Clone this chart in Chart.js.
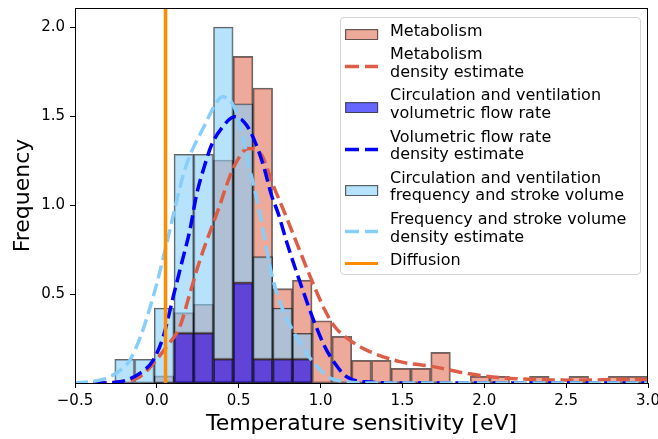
<!DOCTYPE html>
<html>
<head>
<meta charset="utf-8">
<script src="https://cdn.jsdelivr.net/npm/chart.js@4.4.0/dist/chart.umd.min.js"></script>
<style>
  body { margin: 0; background: #fff; }
  #wrap { position: relative; width: 658px; height: 439px; }
  #legend {
    position: absolute; left: 340px; top: 17px; width: 301px; height: 258px;
    box-sizing: border-box; border: 1px solid #d4d4d4; border-radius: 4px;
    background: rgba(255,255,255,0.8);
    font-family: 'DejaVu Sans', sans-serif; font-size: 16px; color: #000;
  }
  .item { position: absolute; left: 0; right: 0; }
  .handle { position: absolute; left: 4px; }
  .txt { position: absolute; left: 49px; top: 0; line-height: 17.5px; white-space: nowrap; }
</style>
</head>
<body>
<div id="wrap">
  <canvas id="histChart" width="658" height="439"></canvas>
  <div id="legend"></div>
</div>
<script>
// bin centres of the histograms (eV)
const binCenters = [-0.197, -0.076, 0.044, 0.165, 0.285, 0.406, 0.527, 0.647, 0.768, 0.888,
  1.009, 1.130, 1.250, 1.371, 1.491, 1.612, 1.733, 1.853, 1.974, 2.094,
  2.215, 2.336, 2.456, 2.577, 2.697, 2.818, 2.939];

const metabFreq = [0, 0, 0.04, 0.395, 0.442, 1.253, 1.835, 1.657, 0.53, 0.578,
  0.35, 0.262, 0.127, 0.127, 0.082, 0.082, 0.172, 0, 0.037, 0.037,
  0, 0.037, 0, 0.037, 0, 0.037, 0.037];
const flowFreq = [0, 0, 0, 0.279, 0.279, 0.133, 0.562, 0.133, 0.133, 0.133,
  0, 0, 0, 0, 0, 0, 0, 0, 0, 0, 0, 0, 0, 0, 0, 0, 0];
// stacked on top of the volumetric flow bars
const strokeFreq = [0.133, 0.133, 0.421, 1.285, 1.285, 2.0, 1.569, 0.71, 0.421, 0.279,
  0, 0, 0, 0, 0, 0, 0, 0, 0, 0, 0, 0, 0, 0, 0, 0, 0];

// density estimates
const metabKdeX = [-0.5, -0.35, -0.226, -0.104, -0.012, 0.059, 0.14, 0.202, 0.263, 0.385, 0.426, 0.476, 0.558, 0.64, 0.71, 0.782, 0.863, 0.945, 1.026, 1.087, 1.18, 1.281, 1.484, 1.688, 1.892, 2.095, 2.3, 2.6, 2.85, 3.0];
const metabKdeY = [0, 0.002, 0.007, 0.035, 0.12, 0.204, 0.316, 0.504, 0.69, 1.0, 1.112, 1.225, 1.318, 1.281, 1.112, 0.953, 0.766, 0.579, 0.41, 0.316, 0.24, 0.185, 0.12, 0.092, 0.054, 0.03, 0.02, 0.016, 0.02, 0.02];

const flowKdeX = [-0.5, -0.35, -0.226, -0.104, -0.022, 0.039, 0.1, 0.151, 0.202, 0.243, 0.293, 0.334, 0.395, 0.476, 0.548, 0.599, 0.65, 0.70, 0.741, 0.802, 0.884, 0.965, 1.026, 1.087, 1.159, 1.3, 1.5, 3.0];
const flowKdeY = [0, 0, 0.007, 0.054, 0.129, 0.26, 0.485, 0.672, 0.86, 1.06, 1.225, 1.337, 1.431, 1.496, 1.449, 1.356, 1.225, 1.056, 0.953, 0.766, 0.541, 0.335, 0.204, 0.111, 0.035, 0.005, 0, 0];

const strokeKdeX = [-0.5, -0.4, -0.287, -0.2, -0.165, -0.1, -0.043, 0.0, 0.059, 0.12, 0.171, 0.212, 0.293, 0.354, 0.399, 0.476, 0.527, 0.568, 0.609, 0.64, 0.70, 0.762, 0.863, 0.945, 1.046, 1.15, 1.3, 3.0];
const strokeKdeY = [0.001, 0.008, 0.035, 0.09, 0.129, 0.26, 0.42, 0.56, 0.78, 1.02, 1.2, 1.30, 1.45, 1.56, 1.608, 1.543, 1.375, 1.2, 1.04, 0.9, 0.616, 0.429, 0.242, 0.129, 0.035, 0.008, 0, 0];

const diffusionX = 0.053;

const xTicks = [-0.5, 0.0, 0.5, 1.0, 1.5, 2.0, 2.5, 3.0];
const yTicks = [0.5, 1.0, 1.5, 2.0];
const yMax = 2.107;

const legendLabels = [
  ['Metabolism'],
  ['Metabolism', 'density estimate'],
  ['Circulation and ventilation', 'volumetric flow rate'],
  ['Volumetric flow rate', 'density estimate'],
  ['Circulation and ventilation', 'frequency and stroke volume'],
  ['Frequency and stroke volume', 'density estimate'],
  ['Diffusion']
];

const metabFill = 'rgba(219,85,55,0.5)';
const metabLine = 'rgb(221,94,70)';
const flowFill = 'rgba(0,0,255,0.6)';
const flowLine = '#0000ff';
const strokeFill = 'rgba(135,206,250,0.6)';
const strokeLine = '#87cefa';
const diffColor = '#ff8c00';
const edgeColor = 'rgba(0,0,0,0.6)';

const pts = (xs, ys) => xs.map((x, i) => ({ x: x, y: ys[i] }));

function barSet(label, data, fill, order) {
  return {
    type: 'bar', label: label, data: data, backgroundColor: fill,
    borderColor: edgeColor, borderWidth: 1.2, borderSkipped: false,
    grouped: false, barPercentage: 1, categoryPercentage: 1, order: order
  };
}
function kdeSet(label, data, color, order) {
  return {
    type: 'line', label: label, data: data, borderColor: color, borderWidth: 3.5,
    borderDash: [13, 5.6], borderCapStyle: 'butt', pointRadius: 0, fill: false,
    cubicInterpolationMode: 'monotone', order: order
  };
}

const metabBars = binCenters.map((c, i) => metabFreq[i] ? { x: c, y: metabFreq[i] } : null).filter(Boolean);
const flowBars = binCenters.map((c, i) => flowFreq[i] ? { x: c, y: flowFreq[i] } : null).filter(Boolean);
const strokeBars = binCenters.map((c, i) => strokeFreq[i] ? { x: c, y: [flowFreq[i], strokeFreq[i]] } : null).filter(Boolean);
// keep every bin centre in the bar ruler so widths equal the bin width
const rulerBars = binCenters.map(c => ({ x: c, y: null }));

const framePlugin = {
  id: 'frame',
  afterDatasetsDraw(chart) {
    const { ctx, chartArea: a } = chart;
    ctx.save();
    ctx.strokeStyle = '#000';
    ctx.lineWidth = 1;
    ctx.strokeRect(Math.round(a.left) + 0.5, Math.round(a.top) + 0.5,
      Math.round(a.right - a.left) - 1, Math.round(a.bottom - a.top));
    ctx.restore();
  }
};

const tickFont = { family: 'DejaVu Sans', size: 15 };
const titleFont = { family: 'DejaVu Sans', size: 22 };

new Chart(document.getElementById('histChart'), {
  type: 'bar',
  data: {
    datasets: [
      { type: 'line', label: 'Diffusion', data: [{ x: diffusionX, y: 0 }, { x: diffusionX, y: yMax }],
        borderColor: diffColor, borderWidth: 3.5, pointRadius: 0, fill: false, order: 1 },
      kdeSet('Frequency and stroke volume density estimate', pts(strokeKdeX, strokeKdeY), strokeLine, 2),
      kdeSet('Volumetric flow rate density estimate', pts(flowKdeX, flowKdeY), flowLine, 3),
      kdeSet('Metabolism density estimate', pts(metabKdeX, metabKdeY), metabLine, 4),
      barSet('Circulation and ventilation frequency and stroke volume', strokeBars, strokeFill, 5),
      barSet('Circulation and ventilation volumetric flow rate', flowBars, flowFill, 6),
      barSet('Metabolism', metabBars, metabFill, 7),
      barSet('', rulerBars, 'rgba(0,0,0,0)', 8)
    ]
  },
  options: {
    responsive: false,
    animation: false,
    devicePixelRatio: 1,
    layout: { padding: { top: 8, right: 10, left: 0, bottom: 0 } },
    plugins: { legend: { display: false }, tooltip: { enabled: false } },
    scales: {
      x: {
        type: 'linear', min: -0.5, max: 3.0, offset: false,
        grid: { display: true, offset: false, drawOnChartArea: false, drawTicks: true, tickLength: 5, color: '#000', lineWidth: 1 },
        border: { display: false },
        ticks: {
          font: tickFont, color: '#000', padding: 4, maxRotation: 0, autoSkip: false,
          callback: v => (v < 0 ? '\u2212' : '') + Math.abs(v).toFixed(1)
        },
        title: { display: true, text: 'Temperature sensitivity [eV]', font: titleFont, color: '#000', padding: { top: 0, bottom: 2 } },
        afterBuildTicks: s => { s.ticks = xTicks.map(v => ({ value: v })); },
        afterFit: s => { s.height = 56; s.paddingLeft = 0; s.paddingRight = 0; }
      },
      y: {
        type: 'linear', min: 0, max: yMax,
        grid: { display: true, offset: false, drawOnChartArea: false, drawTicks: true, tickLength: 5, color: '#000', lineWidth: 1 },
        border: { display: false },
        ticks: { font: tickFont, color: '#000', padding: 5, callback: v => v.toFixed(1) },
        title: { display: true, text: 'Frequency', font: titleFont, color: '#000', padding: { top: 10, bottom: 0 } },
        afterBuildTicks: s => { s.ticks = yTicks.map(v => ({ value: v })); },
        afterFit: s => { s.width = 75; s.paddingTop = 0; s.paddingBottom = 0; }
      }
    }
  },
  plugins: [framePlugin]
});

// legend
const legendHandles = [
  { kind: 'patch', color: metabFill },
  { kind: 'dash', color: metabLine },
  { kind: 'patch', color: flowFill },
  { kind: 'dash', color: flowLine },
  { kind: 'patch', color: strokeFill },
  { kind: 'dash', color: strokeLine },
  { kind: 'solid', color: diffColor }
];

function handleSvg(h) {
  let inner;
  if (h.kind === 'patch') {
    inner = `<rect x="0.6" y="0.6" width="32" height="10" fill="${h.color}" stroke="${edgeColor}" stroke-width="1.2"/>`;
  } else if (h.kind === 'dash') {
    inner = `<line x1="0" y1="5.5" x2="33" y2="5.5" stroke="${h.color}" stroke-width="3.5" stroke-dasharray="14 6"/>`;
  } else {
    inner = `<line x1="0" y1="5.5" x2="33" y2="5.5" stroke="${h.color}" stroke-width="3"/>`;
  }
  return `<svg width="34" height="11" viewBox="0 0 34 11">${inner}</svg>`;
}

const legendEl = document.getElementById('legend');
const lineH = 17.5, rowGap = 6.2;
let rowTop = 3.5;
legendLabels.forEach((lines, i) => {
  const h = lines.length * lineH;
  const item = document.createElement('div');
  item.className = 'item';
  item.style.top = rowTop + 'px';
  item.style.height = h + 'px';
  const hd = document.createElement('div');
  hd.className = 'handle';
  hd.style.top = (h / 2 - 5.5) + 'px';
  hd.innerHTML = handleSvg(legendHandles[i]);
  const tx = document.createElement('div');
  tx.className = 'txt';
  tx.innerHTML = lines.join('<br>');
  item.appendChild(hd);
  item.appendChild(tx);
  legendEl.appendChild(item);
  rowTop += h + rowGap;
});
</script>
</body>
</html>
